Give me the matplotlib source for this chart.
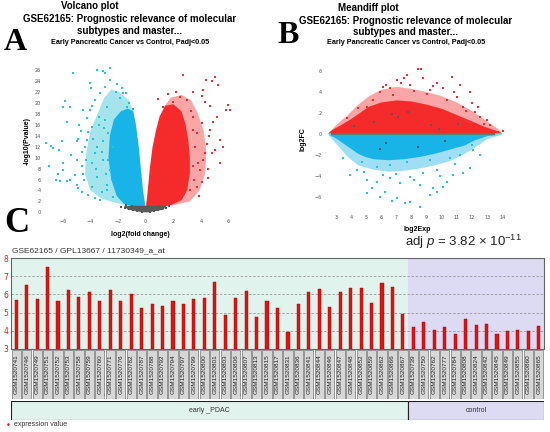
import matplotlib
matplotlib.use("Agg")
import matplotlib.pyplot as plt
import numpy as np

plt.rcParams["mathtext.fontset"] = "custom"
plt.rcParams["mathtext.rm"] = "Liberation Sans"
plt.rcParams["mathtext.it"] = "Liberation Sans:italic"

# ---------------- data ----------------
# Volcano plot (A): dense cores and lighter outer zones as outlines, scattered points listed
volc_blue_core_x = [-0.02, -0.2, -0.35, -0.5, -0.7, -0.9, -1.3, -1.8, -2.3, -2.6, -2.7, -2.5, -2.1, -1.6, -1.0]
volc_blue_core_y = [1.0, 4, 8, 12, 16, 18.5, 19.0, 18.5, 17, 14, 10, 6, 3, 1.6, 1.1]
volc_blue_mid_x = [-0.02, -0.9, -1.2, -1.9, -2.5, -3.0, -3.5, -4.0, -4.3, -4.4, -4.0, -3.2, -2.3, -1.0]
volc_blue_mid_y = [1.0, 18.5, 20.5, 22.0, 22.5, 21.0, 18.0, 15.0, 11.0, 7.0, 4.0, 2.5, 1.8, 1.1]
volc_red_core_x = [0.02, 0.15, 0.3, 0.5, 0.75, 1.0, 1.4, 2.0, 2.6, 2.9, 3.1, 3.2, 3.2, 3.0, 2.6, 1.8, 1.0]
volc_red_core_y = [1.0, 4, 8, 12, 15, 17.5, 19.5, 19.8, 18.5, 16, 13, 10, 7, 4, 2.2, 1.3, 1.0]
volc_red_mid_x = [0.02, 1.4, 1.8, 2.6, 3.3, 3.8, 4.2, 4.4, 4.3, 3.9, 3.2, 2.2, 1.0]
volc_red_mid_y = [1.0, 19.5, 21.0, 21.5, 20.5, 18.0, 15.0, 11.0, 7.0, 4.0, 2.0, 1.4, 1.0]
volc_gray_core_x = [-1.6, 1.5, 1.3, 0.2, -0.2, -1.3]
volc_gray_core_y = [1.2, 1.2, 0.5, 0.0, 0.0, 0.5]
volc_blue_x = [-5.24, -3.51, -3.12, -2.95, -2.59, -7.0, -7.22, -6.89, -6.69, -6.09, -6.26, -5.85, -6.02,
               -5.49, -5.73, -6.38, -6.02, -6.21, -5.73, -5.49, -4.96, -4.88, -4.64, -4.52, -4.33, -4.04,
               -3.99, -4.04, -4.52, -3.67, -4.28, -3.92, -4.7, -4.87, -4.28, -3.55, -3.67, -3.92, -3.51,
               -3.86, -3.19, -2.83, -2.35, -2.95, -3.32, -2.59, -2.18, -1.86, -1.62, -1.43, -1.39, -0.91,
               -2.95, -2.71, -3.07, -2.59, -4.64, -4.4, -3.8, -3.36, -2.83, -4.16, -4.96, -5.13, -3.32,
               -2.71, -2.35, -3.0, -3.2, -2.9, -3.4, -2.8, -3.1, -3.6, -4.6, -4.8, -5.0, -4.5, -3.9,
               -2.1, -1.7, -1.2, -5.4, -6.0, -6.5, -4.2, -3.7]
volc_blue_y = [25.6, 26.1, 25.8, 25.5, 26.4, 8.4, 12.7, 12.1, 11.7, 13.0, 11.4, 20.45, 19.35, 19.2, 16.6,
               7.1, 7.75, 5.8, 5.8, 5.9, 5.0, 4.4, 8.4, 7.1, 9.6, 23.6, 22.7, 18.7, 18.7, 20.5, 17.2, 15.7,
               14.96, 13.5, 13.2, 12.0, 10.8, 9.0, 6.5, 4.7, 3.8, 5.0, 2.9, 23.0, 21.8, 24.2, 22.1, 20.9,
               21.8, 21.8, 19.35, 18.9, 16.9, 14.5, 9.6, 7.8, 3.8, 12.0, 13.5, 17.5, 19.35, 14.7, 9.6, 6.8,
               2.25, 9.6, 12.0, 15.5, 11.0, 7.0, 16.0, 4.0, 13.0, 8.0, 11.0, 16.0, 13.0, 6.0, 19.5,
               23.5, 22.8, 20.0, 10.5, 9.0, 6.0, 3.2, 2.6]
volc_red_x = [2.73, 4.37, 5.02, 4.78, 5.26, 4.13, 3.45, 4.05, 5.99, 6.11, 5.82, 5.14, 4.66, 4.3, 5.38,
              5.62, 5.38, 4.78, 4.42, 4.18, 4.54, 4.05, 3.93, 3.69, 4.05, 3.45, 2.97, 2.49, 2.0, 0.91,
              1.27, 3.21, 2.73, 3.69, 3.45, 4.3, 4.66, 2.97, 3.6, 3.4, 3.8, 3.5, 3.3, 4.6, 4.9, 5.0,
              4.5, 2.2, 1.6, 3.9]
volc_red_y = [25.1, 24.2, 24.8, 24.1, 23.3, 22.4, 22.1, 21.3, 19.6, 18.7, 18.7, 17.5, 19.4, 20.2, 13.2,
              12.0, 8.97, 10.8, 12.6, 9.6, 6.2, 5.6, 7.75, 14.5, 16.3, 17.5, 20.6, 21.2, 20.2, 20.7,
              19.35, 4.1, 3.5, 4.7, 8.4, 10.8, 15.1, 11.4, 12.0, 15.0, 9.0, 6.0, 18.5, 14.0, 16.5, 11.5,
              8.0, 22.0, 21.6, 3.0]
volc_gray_x = [-1.8, -1.5, -1.2, -0.9, -0.6, -0.3, 0.3, 0.6, 0.9, 1.2, 1.5, -1.0, -0.5, 0.5, 1.0, -1.4, 1.7]
volc_gray_y = [1.0, 0.8, 0.6, 0.4, 0.3, 0.1, 0.1, 0.3, 0.4, 0.6, 0.8, 1.1, 0.9, 0.9, 1.1, 1.3, 1.2]

# Meandiff plot (B)
md_red_core_x = [2.5, 2.8, 3.3, 4.0, 4.6, 5.2, 6.0, 7.0, 8.0, 9.0, 10.0, 11.0, 12.0, 12.8, 13.6, 14.0]
md_red_core_y = [0.05, 0.4, 0.8, 1.4, 2.0, 2.6, 3.0, 3.2, 3.1, 2.8, 2.4, 1.8, 1.2, 0.7, 0.3, 0.05]
md_red_mid_x = [2.5, 3.0, 3.8, 4.5, 5.2, 6.0, 7.0, 8.0, 9.0, 10.0, 11.0, 12.0, 13.0, 13.8, 14.0]
md_red_mid_y = [0.05, 0.8, 1.8, 2.8, 3.6, 4.2, 4.5, 4.3, 4.0, 3.6, 3.0, 2.2, 1.2, 0.4, 0.05]
md_blue_core_x = [2.5, 14.0, 13.0, 12.2, 11.5, 10.5, 9.5, 8.5, 7.5, 6.5, 5.5, 5.0, 4.5, 4.0, 3.5, 3.0, 2.6]
md_blue_core_y = [-0.05, -0.05, -0.2, -0.6, -1.1, -1.5, -1.9, -2.2, -2.4, -2.5, -2.4, -2.2, -1.9, -1.4, -0.9, -0.4, -0.1]
md_blue_mid_x = [2.5, 14.0, 13.0, 12.3, 11.5, 10.5, 9.5, 8.5, 7.5, 6.5, 5.5, 4.5, 3.8, 3.2, 2.7]
md_blue_mid_y = [-0.05, -0.05, -0.5, -1.2, -1.9, -2.6, -3.0, -3.3, -3.5, -3.6, -3.4, -3.0, -2.2, -1.2, -0.4]
md_gray_band_x = [2.7, 13.5, 13.5, 2.7]
md_gray_band_y = [-0.12, -0.12, 0.12, 0.12]
md_red_x = [8.45, 8.61, 7.68, 7.53, 7.02, 6.58, 10.65, 8.78, 11.2, 11.87, 11.98, 12.53, 12.97, 13.18,
            13.73, 14.07, 9.66, 10.1, 9.22, 5.92, 6.14, 5.48, 5.04, 4.49, 3.72, 10.98, 11.42, 12.19,
            7.9, 10.33, 9.0, 8.2, 6.8, 11.6, 12.8, 7.3, 9.4, 10.8, 6.3, 12.4]
md_red_y = [6.16, 6.16, 5.62, 5.3, 5.14, 4.35, 5.46, 5.3, 4.67, 4.03, 2.92, 1.65, 1.33, 0.86, 0.22,
            0.32, 4.83, 4.35, 4.19, 4.03, 4.5, 3.24, 2.6, 2.44, 1.49, 3.56, 2.6, 2.13, 4.67, 3.24,
            3.8, 4.1, 3.7, 2.2, 1.0, 4.9, 4.6, 4.0, 4.7, 2.6]
md_blue_x = [8.57, 7.57, 7.9, 6.69, 7.02, 6.25, 5.92, 5.04, 5.37, 9.22, 9.66, 9.44, 10.1, 10.33, 10.76,
             11.42, 11.87, 12.53, 12.09, 11.98, 3.94, 4.38, 5.04, 5.7, 6.58, 7.24, 7.9, 8.78, 9.66, 5.7,
             6.58, 7.68, 9.22, 10.54, 11.2, 4.71, 3.5, 8.57, 6.1, 7.0, 8.2, 9.9, 4.9, 10.9]
md_blue_y = [-6.92, -6.54, -6.45, -6.35, -6.13, -5.49, -5.97, -5.65, -5.17, -5.81, -5.49, -5.17, -5.02,
             -4.54, -3.9, -3.75, -3.27, -2.0, -1.52, -1.05, -3.9, -3.43, -4.38, -4.54, -4.22, -4.7, -4.06,
             -3.75, -3.43, -3.11, -2.95, -2.63, -2.48, -2.32, -2.0, -2.63, -2.32, -4.86, -3.9, -3.8,
             -4.4, -4.0, -3.6, -2.9]
md_gray_x = [4.2, 5.5, 6.3, 7.1, 8.4, 9.3, 10.2, 11.1, 5.9, 7.8, 9.8, 6.7]
md_gray_y = [0.8, 1.1, -0.9, 1.6, -1.2, 0.9, -0.7, 1.0, -1.4, 2.1, 0.5, 1.9]

# Panel C expression values
early_labels = ["GSM1520741", "GSM1520746", "GSM1520749", "GSM1520751", "GSM1520752", "GSM1520753",
                "GSM1520758", "GSM1520759", "GSM1520760", "GSM1520771", "GSM1520776", "GSM1520782",
                "GSM1520787", "GSM1520788", "GSM1520792", "GSM1520794", "GSM1520797", "GSM1520799",
                "GSM1520800", "GSM1520801", "GSM1520803", "GSM1520806", "GSM1520807", "GSM1520813",
                "GSM1520815", "GSM1520817", "GSM1520831", "GSM1520836", "GSM1520841", "GSM1520844",
                "GSM1520846", "GSM1520847", "GSM1520848", "GSM1520852", "GSM1520859", "GSM1520862",
                "GSM1520866", "GSM1520867"]
early_values = [5.70, 6.52, 5.72, 7.52, 5.65, 6.24, 5.85, 6.13, 5.61, 6.26, 5.63, 6.04, 5.28, 5.50,
                5.37, 5.61, 5.46, 5.72, 5.78, 6.68, 4.85, 5.82, 6.20, 4.76, 5.65, 5.24, 3.96, 5.46,
                6.15, 6.30, 5.33, 6.15, 6.35, 6.35, 5.52, 6.63, 6.43, 4.92]
control_labels = ["GSM1520739", "GSM1520750", "GSM1520762", "GSM1520777", "GSM1520784", "GSM1520808",
                  "GSM1520824", "GSM1520842", "GSM1520845", "GSM1520849", "GSM1520855", "GSM1520860",
                  "GSM1520865"]
control_values = [4.20, 4.50, 4.05, 4.22, 3.83, 4.65, 4.31, 4.38, 3.83, 3.98, 4.05, 4.00, 4.24]
group_names = ["early _PDAC", "control"]
y_ticks_c = [3, 4, 5, 6, 7, 8]

# ---------------- figure ----------------
W, H = 550, 432
fig = plt.figure(figsize=(W / 100, H / 100), dpi=100)


def px_axes(l, t, r, b):
    return fig.add_axes([l / W, 1 - b / H, (r - l) / W, (b - t) / H])


def ftext(x, y, s, **kw):
    fig.text(x / W, 1 - y / H, s, **kw)


SANS = ["Liberation Sans", "DejaVu Sans"]
SERIF = ["Liberation Serif", "DejaVu Serif"]
BLUE = "#18b4e8"
BLUE2 = "#27c2d6"
RED = "#f52b2b"
GRAY = "#5a5a5a"
MID_ALPHA = 0.42

# ---- titles A / B
for cx, c2, ys, first in [(90, 130, [6, 19, 31, 42], "Volcano plot"),
                          (368, 406, [8, 21, 32, 43], "Meandiff plot")]:
    ftext(cx, ys[0], first, ha="center", va="center", fontsize=7, fontweight="bold", family=SANS)
    ftext(c2, ys[1], "GSE62165: Prognostic relevance of molecular", ha="center", va="center",
          fontsize=7, fontweight="bold", family=SANS)
    ftext(c2, ys[2], "subtypes and master...", ha="center", va="center", fontsize=7,
          fontweight="bold", family=SANS)
    ftext(c2, ys[3], "Early Pancreatic Cancer vs Control, Padj<0.05", ha="center", va="center",
          fontsize=5.2, fontweight="bold", family=SANS)

ftext(4, 50, "A", fontsize=23, fontweight="bold", family=SERIF, va="baseline")
ftext(277, 43, "B", fontsize=23, fontweight="bold", family=SERIF, va="baseline")
ftext(4, 232, "C", fontsize=25, fontweight="bold", family=SERIF, va="baseline")

# ---- Volcano
axA = px_axes(42.2, 64.9, 239.5, 217.8)
axA.fill(volc_blue_mid_x, volc_blue_mid_y, color=BLUE2, alpha=MID_ALPHA, lw=0)
axA.fill(volc_red_mid_x, volc_red_mid_y, color=RED, alpha=MID_ALPHA, lw=0)
axA.fill(volc_blue_core_x, volc_blue_core_y, color=BLUE, lw=0)
axA.fill(volc_red_core_x, volc_red_core_y, color=RED, lw=0)
axA.scatter(volc_blue_x, volc_blue_y, s=2.5, marker="s", color=BLUE2, lw=0)
axA.scatter(volc_red_x, volc_red_y, s=2.5, marker="s", color=RED, lw=0)
axA.fill(volc_gray_core_x, volc_gray_core_y, color=GRAY, lw=0)
axA.scatter(volc_gray_x, volc_gray_y, s=2.5, marker="s", color=GRAY, lw=0)
axA.set_xlim(-7.5, 6.8)
axA.set_ylim(-1, 27)
axA.set_xticks(range(-6, 7, 2))
axA.set_yticks(range(0, 27, 2))
for s in axA.spines.values():
    s.set_visible(False)
axA.tick_params(length=0, labelsize=3.5, labelcolor="#555", pad=1)
axA.set_ylabel("-log10(Pvalue)", fontsize=5, fontweight="bold", family=SANS, labelpad=3)
axA.set_xlabel("log2(fold change)", fontsize=5, fontweight="bold", family=SANS, labelpad=5)

# ---- Meandiff
axB = px_axes(323.6, 64.7, 511.4, 213.8)
axB.fill(md_red_mid_x, md_red_mid_y, color=RED, alpha=MID_ALPHA, lw=0)
axB.fill(md_blue_mid_x, md_blue_mid_y, color=BLUE, alpha=MID_ALPHA, lw=0)
axB.fill(md_red_core_x, md_red_core_y, color=RED, lw=0)
axB.fill(md_blue_core_x, md_blue_core_y, color=BLUE, lw=0)
axB.scatter(md_red_x, md_red_y, s=2.5, marker="s", color=RED, lw=0)
axB.scatter(md_blue_x, md_blue_y, s=2.5, marker="s", color=BLUE2, lw=0)
axB.fill(md_gray_band_x, md_gray_band_y, color=GRAY, alpha=0.75, lw=0)
axB.scatter(md_gray_x, md_gray_y, s=2.5, marker="s", color=GRAY, lw=0)
axB.set_xlim(2.2, 14.6)
axB.set_ylim(-7.6, 6.6)
axB.set_xticks(range(3, 15))
axB.set_yticks(range(-6, 7, 2))
for s in axB.spines.values():
    s.set_visible(False)
axB.tick_params(length=0, labelsize=3.5, labelcolor="#555", pad=1)
axB.set_ylabel("log2FC", fontsize=5, fontweight="bold", family=SANS, labelpad=6)
axB.set_xlabel("log2Exp", fontsize=5, fontweight="bold", family=SANS, labelpad=4)

# ---- Panel C
labels = early_labels + control_labels
values = early_values + control_values
n = len(labels)
ne = len(early_labels)
xs = np.arange(n)
GREEN_BG = "#e0f3ec"
PURPLE_BG = "#dddaf4"

axC = px_axes(11, 258, 544, 349)
axC.axvspan(-0.5, ne - 0.5, color=GREEN_BG, lw=0, zorder=0)
axC.axvspan(ne - 0.5, n - 0.5, color=PURPLE_BG, lw=0, zorder=0)
for yv in y_ticks_c[1:-1]:
    axC.axhline(yv, color="#9a9a9a", lw=0.6, ls=(0, (3, 2)), zorder=1)
axC.bar(xs, np.array(values) - 3, bottom=3, width=0.3, color="#e01212", edgecolor="#a00000",
        lw=0.3, zorder=2)
axC.set_xlim(-0.5, n - 0.5)
axC.set_ylim(3, 8)
axC.set_xticks([])
axC.set_yticks(y_ticks_c)
axC.tick_params(axis="y", length=0, labelsize=5.5, labelcolor="#cc2020", pad=2)
for s in axC.spines.values():
    s.set_color("#666")
    s.set_linewidth(0.8)

ftext(12, 251, "GSE62165 / GPL13667 / 11730349_a_at", fontsize=6, color="#333", va="center",
      family=SANS)
ftext(522, 242, r"adj $p$ = 3.82 × 10$^{-11}$", fontsize=9.5, color="#222", va="center",
      ha="right", family=SANS)

axL = px_axes(11, 350, 544, 399)
axL.bar(xs, 1, bottom=0, width=0.88, color="#d7d7d7", edgecolor="#555", lw=0.4)
for i, lab in enumerate(labels):
    axL.text(i, 0.5, lab, rotation=90, ha="center", va="center", fontsize=4.6, color="#222",
             family=SANS)
axL.set_xlim(-0.5, n - 0.5)
axL.set_ylim(0, 1)
axL.axis("off")

axG = px_axes(11, 401, 544, 420)
axG.barh(0.5, ne, left=-0.5, height=1, color=GREEN_BG, edgecolor="#222", lw=0.8)
axG.barh(0.5, n - ne, left=ne - 0.5, height=1, color=PURPLE_BG, edgecolor="#222", lw=0.8)
axG.text((ne - 1) / 2, 0.5, group_names[0], ha="center", va="center", fontsize=5, color="#333",
         family=SANS)
axG.text(ne - 0.5 + (n - ne) / 2, 0.5, group_names[1], ha="center", va="center", fontsize=5,
         color="#333", family=SANS)
axG.set_xlim(-0.5, n - 0.5)
axG.set_ylim(0, 1)
axG.axis("off")

ftext(8, 425, "•", fontsize=6, color="#e01212", ha="center", va="center")
ftext(14, 425, "expression value", fontsize=5, color="#333", va="center", family=SANS)

fig.savefig("out.png", dpi=100)
